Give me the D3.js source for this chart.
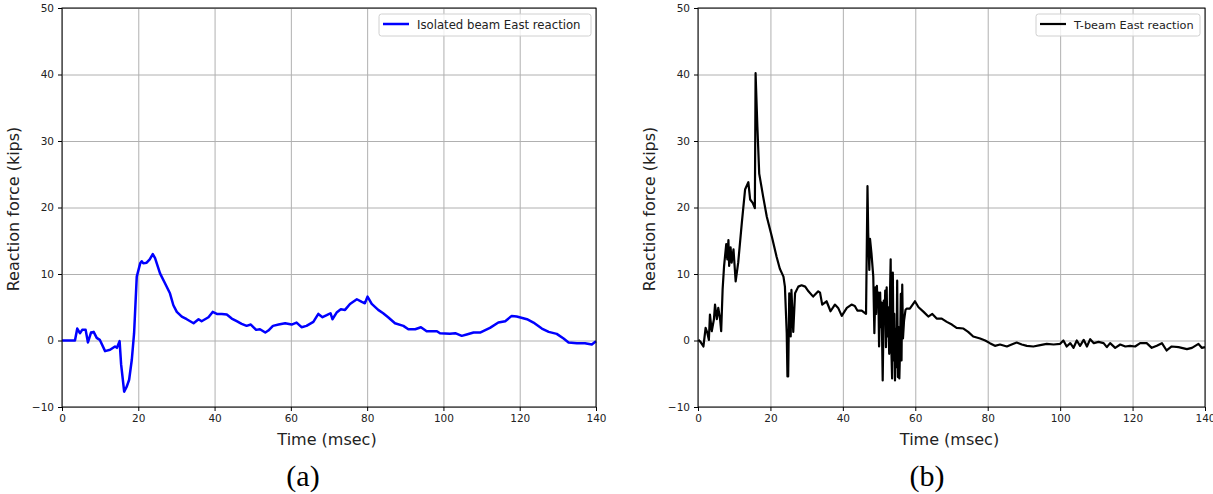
<!DOCTYPE html>
<html>
<head>
<meta charset="utf-8">
<script src="https://cdn.jsdelivr.net/npm/d3@7"></script>
<style>
  body { margin: 0; background: #fff; }
  svg { display: block; }
</style>
</head>
<body>
<svg id="chart" width="1213" height="494"></svg>
<script>
// time (msec) and reaction force (kips)
var timeA = [0, 3.4, 4.0, 4.7, 5.3, 6.2, 6.8, 7.6, 8.3, 9.1, 9.9, 11.3, 12.6, 13.9, 14.4, 15.1, 15.5, 16.3, 17.0, 17.6, 18.3, 18.9, 19.6, 20.5, 20.9, 21.3, 22.2, 23.0, 23.8, 24.4, 25.7, 27.0, 28.3, 29.2, 30.1, 31.4, 32.7, 34.5, 35.8, 36.6, 37.5, 38.4, 39.5, 40.6, 41.9, 43.2, 44.5, 45.8, 47.1, 48.4, 49.5, 50.9, 51.9, 53.3, 54.1, 55.3, 56.8, 58.5, 60.2, 61.5, 62.8, 64.1, 65.9, 67.2, 68.3, 69.4, 70.4, 70.9, 72.0, 73.1, 74.2, 75.5, 77.3, 78.6, 79.4, 80.1, 81.2, 82.9, 84.2, 85.5, 87.3, 89.5, 90.8, 92.6, 94.1, 95.6, 98.3, 99.1, 101.7, 103.1, 104.8, 106.1, 107.9, 109.6, 112.2, 114.4, 116.2, 117.9, 119.2, 121.9, 123.6, 125.8, 127.6, 129.7, 131.5, 132.8, 135.0, 137.1, 138.9, 140];
var forceA = [0, 0, 1.8, 1.1, 1.6, 1.6, -0.3, 1.2, 1.3, 0.4, 0.1, -1.6, -1.4, -0.9, -1.1, -0.1, -3.6, -7.7, -6.9, -5.9, -2.9, 1.1, 9.6, 11.6, 11.9, 11.6, 11.7, 12.2, 13.0, 12.4, 10.1, 8.6, 7.1, 5.3, 4.3, 3.6, 3.2, 2.6, 3.2, 2.9, 3.2, 3.5, 4.3, 4.0, 4.0, 3.9, 3.3, 2.9, 2.5, 2.2, 2.4, 1.6, 1.7, 1.2, 1.5, 2.2, 2.4, 2.6, 2.4, 2.7, 2.0, 2.2, 2.8, 4.0, 3.5, 3.8, 4.1, 3.2, 4.2, 4.7, 4.6, 5.5, 6.2, 5.8, 5.6, 6.6, 5.5, 4.6, 4.1, 3.5, 2.6, 2.2, 1.7, 1.7, 2.0, 1.4, 1.4, 1.1, 1.0, 1.1, 0.7, 0.9, 1.2, 1.2, 1.9, 2.7, 2.9, 3.7, 3.6, 3.2, 2.7, 1.8, 1.3, 1.0, 0.3, -0.3, -0.4, -0.4, -0.6, -0.1];

var timeB = [0.1, 0.7, 1.5, 2.1, 2.6, 3.0, 3.3, 3.8, 4.4, 4.7, 5.2, 5.6, 6.1, 6.4, 6.8, 7.2, 7.8, 8.1, 8.4, 8.6, 9.0, 9.3, 9.8, 10.4, 11.1, 12.1, 13.0, 13.9, 14.4, 15.1, 15.7, 15.9, 16.4, 16.9, 18.0, 19.0, 20.4, 21.7, 22.6, 23.6, 24.0, 24.5, 24.7, 24.9, 25.2, 25.6, 25.8, 26.3, 26.8, 27.7, 28.6, 29.6, 30.5, 31.8, 33.2, 33.7, 34.3, 35.5, 36.6, 37.8, 38.7, 39.7, 41.1, 42.4, 43.3, 44.0, 45.2, 46.4, 46.8, 47.0, 47.3, 47.5, 47.9, 48.4, 48.7, 49.0, 49.2, 49.4, 49.6, 49.8, 50.0, 50.3, 50.5, 50.7, 51.0, 51.3, 51.5, 51.7, 51.9, 52.1, 52.3, 52.5, 52.8, 53.0, 53.2, 53.4, 53.6, 53.8, 54.0, 54.2, 54.4, 54.6, 54.8, 55.0, 55.2, 55.4, 55.6, 55.8, 56.0, 56.2, 56.4, 56.6, 56.9, 57.3, 57.6, 58.5, 59.9, 60.9, 62.3, 63.6, 64.7, 65.9, 67.3, 68.7, 70.1, 71.4, 73.3, 74.6, 76.0, 77.9, 79.3, 80.6, 82.0, 83.4, 85.3, 86.6, 88.0, 89.4, 90.8, 92.6, 94.5, 96.3, 98.2, 100.0, 100.9, 101.8, 102.8, 103.7, 104.6, 105.5, 106.5, 107.4, 108.3, 109.3, 110.6, 112.0, 112.9, 113.8, 115.2, 116.6, 118.0, 119.3, 120.7, 122.1, 123.9, 125.3, 126.7, 128.1, 129.4, 130.8, 132.7, 135.0, 136.4, 138.2, 139.1, 140];
var forceB = [0.1, -0.2, -0.9, 1.9, 1.1, 0.1, 3.9, 1.4, 3.2, 5.4, 3.2, 4.9, 3.2, 1.4, 7.7, 11.2, 14.5, 12.2, 15.1, 11.2, 14.0, 11.7, 13.7, 8.9, 11.7, 17.7, 22.7, 23.8, 21.2, 20.7, 19.9, 40.2, 32.1, 25.1, 21.6, 18.6, 15.6, 12.6, 10.8, 9.6, 8.1, 1.1, -5.4, -5.4, 7.1, 0.6, 7.6, 1.3, 7.1, 8.1, 8.3, 8.1, 7.4, 6.6, 7.4, 7.2, 5.4, 5.9, 4.4, 5.4, 4.9, 3.7, 4.9, 5.4, 5.2, 4.5, 4.5, 4.0, 23.2, 16.2, 10.6, 15.3, 13.1, 9.6, 1.1, 8.0, 4.0, 8.2, 5.0, 7.2, -0.9, 7.2, 2.0, 5.7, -6.0, 6.0, 2.7, 7.5, -1.0, 8.0, 0.6, 5.0, -2.0, 6.7, 12.2, -1.5, -5.7, 10.2, -3.0, 4.0, -6.0, 1.8, -4.0, 9.0, -5.5, 2.0, -5.7, -1.2, 7.0, -3.0, 8.4, 0.3, 3.0, 4.6, 4.8, 4.8, 5.9, 5.0, 4.3, 3.6, 4.0, 3.3, 3.3, 2.8, 2.4, 1.9, 1.8, 1.3, 0.6, 0.3, 0.0, -0.4, -0.8, -0.6, -0.9, -0.6, -0.3, -0.6, -0.8, -0.9, -0.7, -0.5, -0.6, -0.5, 0.0, -0.9, -0.4, -1.1, 0.0, -0.8, 0.1, -0.9, 0.2, -0.4, -0.2, -0.4, -1.0, -0.4, -1.1, -0.6, -0.9, -0.8, -0.9, -0.4, -0.4, -1.1, -0.8, -0.4, -1.5, -0.9, -1.0, -1.3, -1.1, -0.5, -1.1, -1.0];

var xTicks = [0, 20, 40, 60, 80, 100, 120, 140];
var yTicks = [-10, 0, 10, 20, 30, 40, 50];

var svg = d3.select("#chart");
var font = "'DejaVu Sans', sans-serif";

function drawPanel(opt) {
  var x = d3.scaleLinear().domain([0, 140]).range([opt.left, opt.right]);
  var y = d3.scaleLinear().domain([-10, 50]).range([407, 8]);

  var g = svg.append("g");

  // grid
  g.append("g")
    .attr("transform", "translate(0,407)")
    .call(d3.axisBottom(x).tickValues(xTicks).tickSize(-399).tickFormat(""))
    .call(s => s.select(".domain").remove())
    .call(s => s.selectAll("line").attr("stroke", "#b0b0b0").attr("stroke-width", 1));
  g.append("g")
    .attr("transform", "translate(" + opt.left + ",0)")
    .call(d3.axisLeft(y).tickValues(yTicks).tickSize(-(opt.right - opt.left)).tickFormat(""))
    .call(s => s.select(".domain").remove())
    .call(s => s.selectAll("line").attr("stroke", "#b0b0b0").attr("stroke-width", 1));

  // data line
  var line = d3.line().x(d => x(d[0])).y(d => y(d[1]));
  g.append("path")
    .datum(d3.zip(opt.time, opt.force))
    .attr("d", line)
    .attr("fill", "none")
    .attr("stroke", opt.color)
    .attr("stroke-width", opt.width)
    .attr("stroke-linejoin", "round");

  // frame
  g.append("rect")
    .attr("x", opt.left).attr("y", 8)
    .attr("width", opt.right - opt.left).attr("height", 399)
    .attr("fill", "none").attr("stroke", "#000").attr("stroke-width", 1);

  // axes
  var fmt = d => d < 0 ? "\u2212" + Math.abs(d) : d;
  g.append("g")
    .attr("transform", "translate(0,407)")
    .call(d3.axisBottom(x).tickValues(xTicks).tickSize(4).tickPadding(4).tickFormat(fmt))
    .call(s => s.select(".domain").remove())
    .call(s => s.selectAll("text").attr("font-family", font).attr("font-size", 10.5).attr("fill", "#222"));
  g.append("g")
    .attr("transform", "translate(" + opt.left + ",0)")
    .call(d3.axisLeft(y).tickValues(yTicks).tickSize(4).tickPadding(4).tickFormat(fmt))
    .call(s => s.select(".domain").remove())
    .call(s => s.selectAll("text").attr("font-family", font).attr("font-size", 10.5).attr("fill", "#222"));

  // axis titles
  g.append("text")
    .attr("x", (opt.left + opt.right) / 2 - 2).attr("y", 445)
    .attr("text-anchor", "middle")
    .attr("font-family", font).attr("font-size", 16).attr("fill", "#222")
    .text("Time (msec)");
  g.append("text")
    .attr("transform", "translate(" + (opt.left - 43) + ",209) rotate(-90)")
    .attr("text-anchor", "middle")
    .attr("font-family", font).attr("font-size", 16).attr("fill", "#222")
    .text("Reaction force (kips)");

  // legend
  var lg = g.append("g");
  lg.append("rect")
    .attr("x", opt.legX).attr("y", 14)
    .attr("width", opt.legR - opt.legX).attr("height", 22)
    .attr("rx", 2.5)
    .attr("fill", "#fff").attr("fill-opacity", 0.8)
    .attr("stroke", "#d0d0d0").attr("stroke-width", 1);
  lg.append("line")
    .attr("x1", opt.legX + 4).attr("x2", opt.legX + 30)
    .attr("y1", 24).attr("y2", 24)
    .attr("stroke", opt.color).attr("stroke-width", opt.width);
  lg.append("text")
    .attr("x", opt.legX + 38).attr("y", 28.5)
    .attr("font-family", font).attr("font-size", opt.legFont).attr("fill", "#222")
    .text(opt.label);

  // sub caption
  g.append("text")
    .attr("x", opt.capX).attr("y", 486)
    .attr("text-anchor", "middle")
    .attr("font-family", "'Liberation Serif', 'Times New Roman', serif")
    .attr("font-size", 30).attr("fill", "#000")
    .text(opt.caption);
}

drawPanel({ left: 62, right: 596, time: timeA, force: forceA, color: "#0000ff", width: 2.5,
  label: "Isolated beam East reaction", legX: 379, legR: 591, legFont: 11.7, capX: 303, caption: "(a)" });
drawPanel({ left: 698, right: 1205, time: timeB, force: forceB, color: "#000", width: 2.2,
  label: "T-beam East reaction", legX: 1036, legR: 1200, legFont: 11.3, capX: 927, caption: "(b)" });
</script>
</body>
</html>
